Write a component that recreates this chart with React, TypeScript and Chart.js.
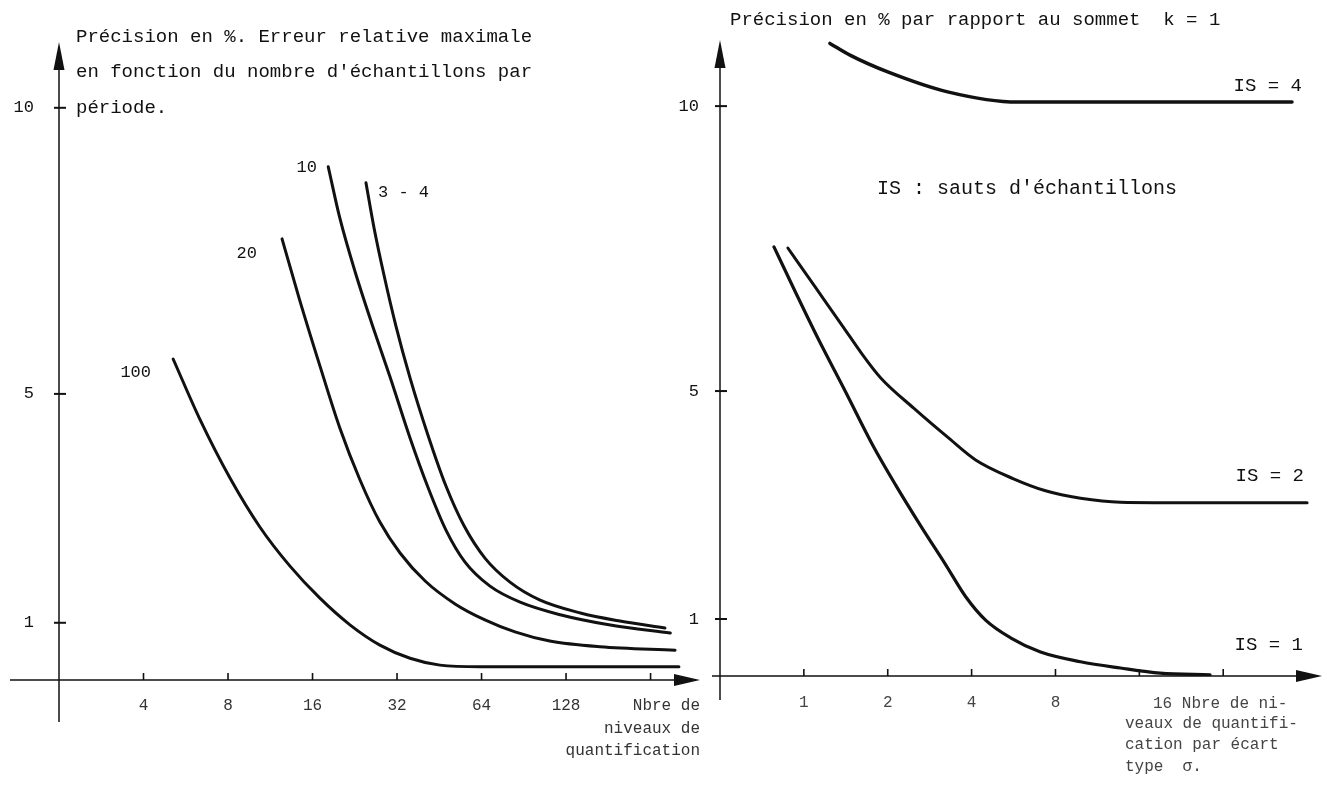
import React, { useEffect, useRef } from "react";
import { Chart, registerables } from "chart.js";

Chart.register(...registerables);

// ---------- Left panel data (x: nombre de niveaux, y: précision %) ----------
const LEFT_X_TICKS = [4, 8, 16, 32, 64, 128, 256];
const LEFT_X_LABELS = ["4", "8", "16", "32", "64", "128", ""];
const LEFT_Y_TICKS = [1, 5, 10];
const LEFT_Y_LABELS = ["1", "5", "10"];

const S100_X = [5.1, 6.36, 8.13, 10.4, 13.3, 17.0, 21.8, 27.8, 35.6, 45.5, 63.2, 103, 323];
const S100_Y = [5.61, 4.55, 3.53, 2.67, 1.99, 1.43, 0.96, 0.61, 0.38, 0.26, 0.23, 0.23, 0.23];

const S20_X = [12.46, 14.4, 17.0, 20.0, 23.6, 27.8, 32.8, 40.3, 51.5, 65.8, 84.2, 112, 169, 313];
const S20_Y = [7.71, 6.64, 5.49, 4.41, 3.5, 2.76, 2.22, 1.73, 1.33, 1.05, 0.84, 0.68, 0.58, 0.52];

const S10_X = [18.2, 20.0, 22.7, 26.1, 30.2, 35.6, 41.3, 47.8, 55.9, 68.6, 87.8, 122, 184, 301];
const S10_Y = [8.97, 8.08, 7.13, 6.21, 5.3, 4.23, 3.36, 2.62, 2.06, 1.64, 1.36, 1.14, 0.96, 0.82];

const S34_X = [24.8, 26.5, 28.8, 31.7, 35.6, 41.3, 47.8, 55.5, 65.8, 80.8, 103, 144, 199, 288];
const S34_Y = [8.69, 7.9, 7.06, 6.19, 5.28, 4.27, 3.39, 2.69, 2.13, 1.71, 1.4, 1.17, 1.03, 0.91];

// ---------- Right panel data (x: niveaux par écart type, y: précision %) ----------
const RIGHT_X_TICKS = [1, 2, 4, 8, 16, 32];
const RIGHT_X_LABELS = ["1", "2", "4", "8", "", ""];
const RIGHT_Y_TICKS = [1, 5, 10];
const RIGHT_Y_LABELS = ["1", "5", "10"];

const IS4_X = [1.24, 1.47, 2.0, 3.28, 5.85, 11.6, 56.5];
const IS4_Y = [11.1, 10.89, 10.6, 10.25, 10.07, 10.07, 10.07];

const IS2_X = [0.876, 1.104, 1.391, 1.601, 1.888, 2.479, 3.281, 4.135, 5.657, 7.37, 9.84, 13.68, 26.5, 64];
const IS2_Y = [7.51, 6.81, 6.11, 5.68, 5.23, 4.7, 4.19, 3.79, 3.46, 3.25, 3.12, 3.05, 3.04, 3.04];

const IS1_X = [0.781, 0.936, 1.122, 1.414, 1.767, 2.136, 2.63, 3.23, 3.81, 4.49, 5.52, 7.07, 9.84, 13.68, 19.0, 28.7];
const IS1_Y = [7.53, 6.72, 5.93, 4.98, 4.05, 3.35, 2.63, 1.95, 1.39, 0.98, 0.67, 0.42, 0.25, 0.14, 0.05, 0.02];

const FONT = '"Liberation Mono", "Courier New", monospace';
const INK = "#111";

type Ann = { t: string; x: number; y: number; a?: CanvasTextAlign; s?: number; c?: string };

const LEFT_TEXT: Ann[] = [
  { t: "Précision en %. Erreur relative maximale", x: 76, y: 37, s: 19 },
  { t: "en fonction du nombre d'échantillons par", x: 76, y: 72, s: 19 },
  { t: "période.", x: 76, y: 108, s: 19 },
  { t: "10", x: 317, y: 167, a: "right", s: 17 },
  { t: "3 - 4", x: 378, y: 192, s: 17 },
  { t: "20", x: 257, y: 253, a: "right", s: 17 },
  { t: "100", x: 151, y: 372, a: "right", s: 17 },
  { t: "Nbre de", x: 700, y: 706, a: "right", s: 16, c: "#333" },
  { t: "niveaux de", x: 700, y: 729, a: "right", s: 16, c: "#333" },
  { t: "quantification", x: 700, y: 751, a: "right", s: 16, c: "#333" },
];

const RIGHT_TEXT: Ann[] = [
  { t: "Précision en % par rapport au sommet  k = 1", x: 730, y: 20, s: 19 },
  { t: "IS = 4", x: 1302, y: 86, a: "right", s: 19 },
  { t: "IS : sauts d'échantillons", x: 877, y: 189, s: 20 },
  { t: "IS = 2", x: 1304, y: 476, a: "right", s: 19 },
  { t: "IS = 1", x: 1303, y: 645, a: "right", s: 19 },
  { t: "16 Nbre de ni-", x: 1153, y: 704, s: 16, c: "#444" },
  { t: "veaux de quantifi-", x: 1125, y: 724, s: 16, c: "#444" },
  { t: "cation par écart", x: 1125, y: 745, s: 16, c: "#444" },
  { t: "type  σ.", x: 1125, y: 767, s: 16, c: "#444" },
];

type Panel = {
  id: string;
  offsetX: number;
  series: { x: number[]; y: number[]; w: number }[];
  xMin: number;
  xMax: number;
  yMax: number;
  padTop: number;
  padRight: number;
  yAxisW: number;
  xAxisH: number;
  xPad: number;
  yPad: number;
  yExt: number;
  xExt: number;
  xTicks: number[];
  xLabels: string[];
  yTicks: number[];
  yLabels: string[];
  xLabelColor: string;
  text: Ann[];
};

const LEFT: Panel = {
  id: "left",
  offsetX: 0,
  series: [
    { x: S100_X, y: S100_Y, w: 3 },
    { x: S20_X, y: S20_Y, w: 3 },
    { x: S10_X, y: S10_Y, w: 3 },
    { x: S34_X, y: S34_Y, w: 3 },
  ],
  xMin: 2,
  xMax: 384,
  yMax: 11.15,
  padTop: 42,
  padRight: 10,
  yAxisW: 59,
  xAxisH: 105,
  xPad: 16,
  yPad: 25,
  yExt: 42,
  xExt: 49,
  xTicks: LEFT_X_TICKS,
  xLabels: LEFT_X_LABELS,
  yTicks: LEFT_Y_TICKS,
  yLabels: LEFT_Y_LABELS,
  xLabelColor: "#333",
  text: LEFT_TEXT,
};

const RIGHT: Panel = {
  id: "right",
  offsetX: 660,
  series: [
    { x: IS4_X, y: IS4_Y, w: 3.5 },
    { x: IS2_X, y: IS2_Y, w: 3 },
    { x: IS1_X, y: IS1_Y, w: 3.2 },
  ],
  xMin: 0.5,
  xMax: 72.4,
  yMax: 11.16,
  padTop: 40,
  padRight: 5,
  yAxisW: 60,
  xAxisH: 109,
  xPad: 17,
  yPad: 21,
  yExt: 24,
  xExt: 8,
  xTicks: RIGHT_X_TICKS,
  xLabels: RIGHT_X_LABELS,
  yTicks: RIGHT_Y_TICKS,
  yLabels: RIGHT_Y_LABELS,
  xLabelColor: "#444",
  text: RIGHT_TEXT,
};

function axesPlugin(p: Panel) {
  return {
    id: "axes-" + p.id,
    afterDatasetsDraw(chart: any) {
      const { ctx, chartArea, scales } = chart;
      const xs = scales.x;
      const ys = scales.y;
      const ax = chartArea.left;
      const by = ys.getPixelForValue(0);
      const seg = (x1: number, y1: number, x2: number, y2: number) => {
        ctx.beginPath();
        ctx.moveTo(x1, y1);
        ctx.lineTo(x2, y2);
        ctx.stroke();
      };
      ctx.save();
      ctx.strokeStyle = INK;
      ctx.fillStyle = INK;
      ctx.lineWidth = 1.5;
      // y axis with arrow
      seg(ax, by + p.yExt, ax, chartArea.top + 6);
      ctx.beginPath();
      ctx.moveTo(ax, chartArea.top);
      ctx.lineTo(ax - 5.5, chartArea.top + 28);
      ctx.lineTo(ax + 5.5, chartArea.top + 28);
      ctx.closePath();
      ctx.fill();
      // x axis with arrow
      seg(ax - p.xExt, by, chartArea.right - 6, by);
      ctx.beginPath();
      ctx.moveTo(chartArea.right, by);
      ctx.lineTo(chartArea.right - 26, by - 6);
      ctx.lineTo(chartArea.right - 26, by + 6);
      ctx.closePath();
      ctx.fill();
      // tick marks
      ctx.lineWidth = 2;
      p.yTicks.forEach((v) => {
        const y = ys.getPixelForValue(v);
        seg(ax - 5, y, ax + 7, y);
      });
      ctx.lineWidth = 1.6;
      p.xTicks.forEach((v) => {
        const x = xs.getPixelForValue(v);
        seg(x, by, x, by - 7);
      });
      // texts
      ctx.textBaseline = "middle";
      p.text.forEach((a) => {
        ctx.font = `${a.s || 17}px ${FONT}`;
        ctx.fillStyle = a.c || INK;
        ctx.textAlign = a.a || "left";
        ctx.fillText(a.t, a.x - p.offsetX, a.y);
      });
      ctx.restore();
    },
  };
}

function makeConfig(p: Panel): any {
  return {
    type: "line",
    data: {
      datasets: p.series.map((s) => ({
        data: s.x.map((x, i) => ({ x, y: s.y[i] })),
        borderColor: INK,
        borderWidth: s.w,
        pointRadius: 0,
        fill: false,
        cubicInterpolationMode: "monotone",
        borderCapStyle: "round",
        borderJoinStyle: "round",
      })),
    },
    options: {
      animation: false,
      responsive: false,
      events: [],
      layout: { padding: { left: 0, top: p.padTop, right: p.padRight, bottom: 0 } },
      plugins: { legend: { display: false }, tooltip: { enabled: false }, title: { display: false } },
      scales: {
        x: {
          type: "logarithmic",
          min: p.xMin,
          max: p.xMax,
          grid: { display: false, drawTicks: false },
          border: { display: false },
          afterFit: (s: any) => {
            s.height = p.xAxisH;
          },
          afterBuildTicks: (s: any) => {
            s.ticks = p.xTicks.map((v) => ({ value: v }));
          },
          ticks: {
            autoSkip: false,
            maxRotation: 0,
            minRotation: 0,
            padding: p.xPad,
            color: p.xLabelColor,
            font: { family: FONT, size: 16 },
            callback: (_v: any, i: number) => p.xLabels[i],
          },
        },
        y: {
          type: "linear",
          min: 0,
          max: p.yMax,
          grid: { display: false, drawTicks: false },
          border: { display: false },
          afterFit: (s: any) => {
            s.width = p.yAxisW;
          },
          afterBuildTicks: (s: any) => {
            s.ticks = p.yTicks.map((v) => ({ value: v }));
          },
          ticks: {
            autoSkip: false,
            padding: p.yPad,
            color: INK,
            font: { family: FONT, size: 17 },
            callback: (_v: any, i: number) => p.yLabels[i],
          },
        },
      },
    },
    plugins: [axesPlugin(p)],
  };
}

export default function App() {
  const leftRef = useRef<HTMLCanvasElement>(null);
  const rightRef = useRef<HTMLCanvasElement>(null);
  useEffect(() => {
    const c1 = new Chart(leftRef.current as HTMLCanvasElement, makeConfig(LEFT));
    const c2 = new Chart(rightRef.current as HTMLCanvasElement, makeConfig(RIGHT));
    return () => {
      c1.destroy();
      c2.destroy();
    };
  }, []);
  return (
    <div style={{ position: "fixed", left: 0, top: 0, width: 1327, height: 785, background: "#fff", overflow: "hidden" }}>
      <canvas ref={leftRef} width={710} height={785} style={{ position: "absolute", left: 0, top: 0 }} />
      <canvas ref={rightRef} width={667} height={785} style={{ position: "absolute", left: 660, top: 0 }} />
    </div>
  );
}
